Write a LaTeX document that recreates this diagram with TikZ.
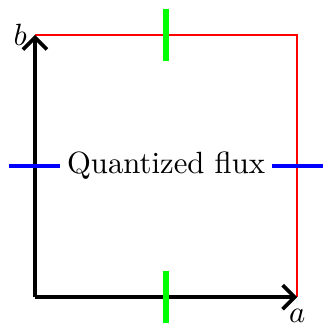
\documentclass[tikz,border=0pt]{standalone}
\usepackage{tikz}
\usetikzlibrary{arrows.meta,positioning,calc}

\begin{document}
\begin{tikzpicture}[
  axis/.style={->, very thick, >=Straight Barb},
  edge/.style={red, semithick},
  gtick/.style={green, line width=1.7pt},
  btick/.style={blue, line width=1.5pt},
]
\useasboundingbox (-0.4, -0.33) rectangle (3.3, 3.4);
\coordinate (o) at (0, 0);
\coordinate (ta) at (3, 0);
\coordinate (tb) at (0, 3);
\coordinate (tc) at (3, 3);
\node[inner sep=1pt] (a) at (3, -0.22) {$a$};
\node[inner sep=1pt, anchor=east] (b) at (-0.05, 3) {$b$};
\node[fill=white, inner sep=2pt] (flux) at (1.5, 1.5) {Quantized flux};
\coordinate (fl) at (-0.3, 1.5);
\coordinate (fr) at (3.3, 1.5);
\draw[edge] (tb) -- (tc) -- (ta);
\draw[axis] (o) -- (ta);
\draw[axis] (o) -- (tb);
\draw[btick] (fl) -- (flux);
\draw[btick] (flux) -- (fr);
\draw[gtick] (1.5, 2.7) -- (1.5, 3.3);
\draw[gtick] (1.5, -0.3) -- (1.5, 0.3);
\end{tikzpicture}
\end{document}
